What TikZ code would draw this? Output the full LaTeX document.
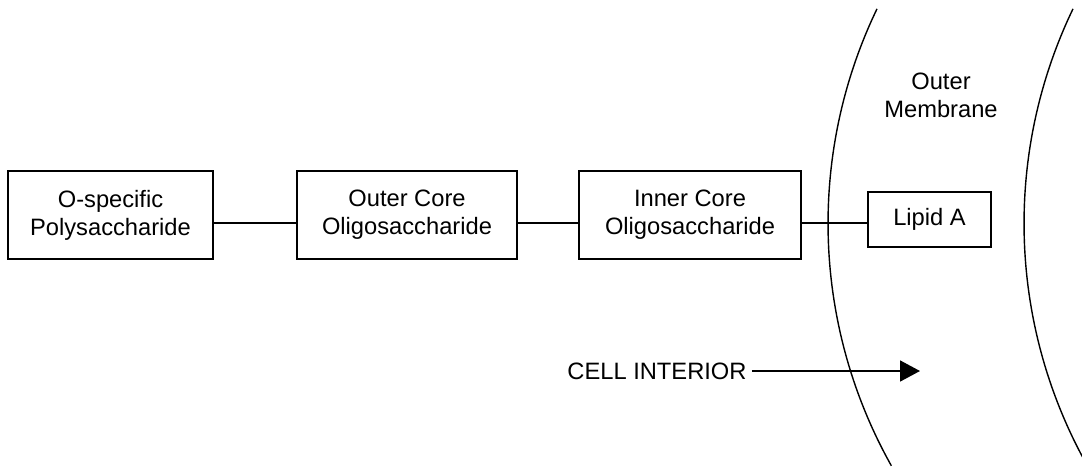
\documentclass[tikz,border=0pt]{standalone}
\usepackage{fontspec}
\setmainfont{Liberation Sans}
\usepackage{tikz}
\usetikzlibrary{arrows.meta,positioning}
\tikzset{
  part/.style={draw,line width=2pt,align=center,inner sep=0pt,
    minimum height=88pt},
  link/.style={line width=1.7pt},
  membrane/.style={line width=1.4pt},
  label/.style={align=center,inner sep=0pt},
  every node/.style={font=\fontsize{23.7}{28}\selectfont}
}
\tikzstyle{arrow} = [line width=1.7pt,-{Triangle[length=20pt,width=21pt]}]

\begin{document}
\begin{tikzpicture}[x=1pt,y=-1pt]
  % Canvas
  \useasboundingbox (0,0) rectangle (1082,467);
  \def\cx{1323} \def\cy{223.5} \def\rad{495}

  % LPS parts
  \node[part,minimum width=205pt] (ospec) at (110.5,215) {O-specific\\Polysaccharide};
  \node[part,minimum width=220pt] (outer) at (407,215) {Outer Core\\Oligosaccharide};
  \node[part,minimum width=222pt] (inner) at (690,215) {Inner Core\\Oligosaccharide};
  \node[part,minimum width=123pt,minimum height=55pt] (lipid) at (929.5,219.5) {Lipid A};

  % Links
  \draw[link] ([yshift=-8pt]ospec.east) -- ([yshift=-8pt]outer.west);
  \draw[link] ([yshift=-8pt]outer.east) -- ([yshift=-8pt]inner.west);
  \draw[link] ([yshift=-8pt]inner.east) -- ([yshift=-8pt]inner.east -| lipid.west);

  % Membrane
  \draw[membrane] (\cx,\cy) ++(205.7:\rad) arc (205.7:150.7:\rad);
  \draw[membrane] (\cx+196,\cy) ++(205.7:\rad) arc (205.7:150.7:\rad);
  \node[label] (mem) at (941,95.6) {Outer\\Membrane};

  % Interior
  \node[label] (cell) at (657,371) {CELL INTERIOR};
  \coordinate (tip) at (920,371);
  \draw[arrow] ([xshift=5pt]cell.east) -- (tip);
\end{tikzpicture}
\end{document}
